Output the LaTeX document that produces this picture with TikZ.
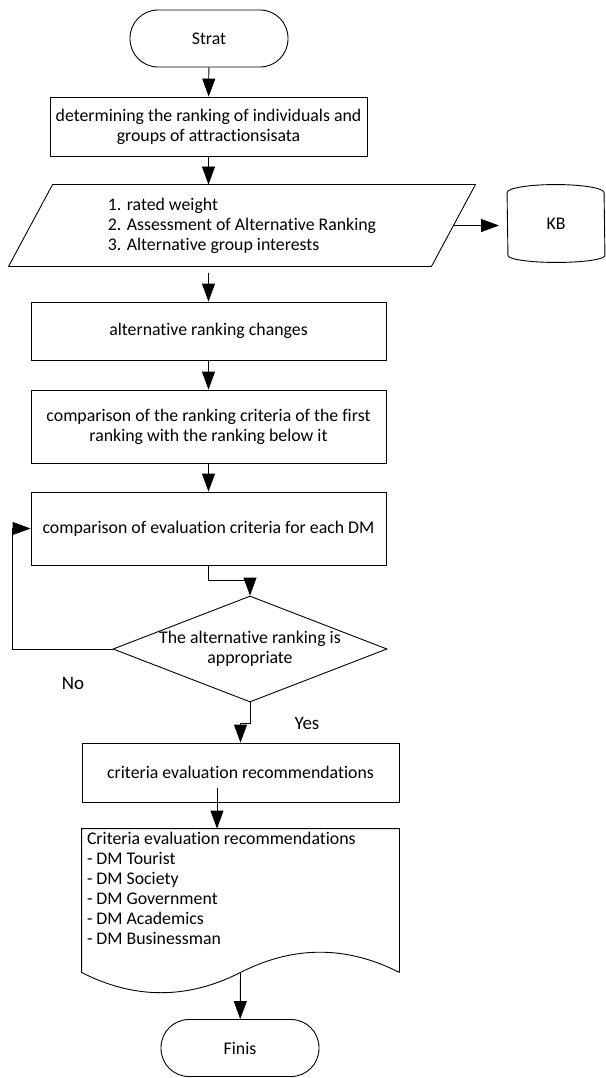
\documentclass[tikz,border=0pt]{standalone}
\usepackage{fontspec}
\setmainfont[Ligatures=CommonOff]{Carlito}
\usetikzlibrary{calc}
\usetikzlibrary{arrows.meta,shapes.geometric}
\tikzset{
	terminal/.style={draw, rounded corners=28pt, minimum width=158pt, minimum height=57pt},
	process/.style={draw, minimum height=58pt, align=center},
	inputbox/.style={minimum width=422pt, minimum height=81pt, align=left},
	storebox/.style={minimum width=97pt, minimum height=62pt},
	docbox/.style={minimum width=317pt, minimum height=143pt},
	decision/.style={draw, diamond, aspect=2.6, inner sep=0pt, minimum width=274pt, minimum height=106pt, align=center},
	answer/.style={font=\fontsize{19}{22}\selectfont},
	flow/.style={-{Triangle[length=18pt,width=13pt]}}
}

\begin{document}
\begin{tikzpicture}[x=1pt, y=-1pt, line width=0.9pt, every node/.style={font=\fontsize{17.8}{20}\selectfont}]
	\useasboundingbox (0,0) rectangle (605,1078);
	\node[terminal] (start) at (209,38.5) {Strat};
	\node[process, minimum width=317pt, minimum height=59pt] (rank) at (208.5,126.5) {determining the ranking of individuals and\\groups of attractionsisata};
	\node[inputbox] (input) at (242,225.5) {1. rated weight\\2. Assessment of Alternative Ranking\\3. Alternative group interests};
	\draw ([xshift=22pt]input.north west) -- ([xshift=22pt]input.north east) -- ([xshift=-22pt]input.south east) -- ([xshift=-22pt]input.south west) -- cycle;
	\node[storebox] (kb) at (556,224) {KB};
	\draw (kb.north west) arc[start angle=180, end angle=0, x radius=48.5pt, y radius=8pt] -- (kb.south east) arc[start angle=0, end angle=-180, x radius=48.5pt, y radius=7pt] -- cycle;
	\node[process, minimum width=355pt] (change) at (208.5,331) {alternative ranking changes};
	\node[process, minimum width=355pt, minimum height=73pt] (compare) at (208.5,426.5) {comparison of the ranking criteria of the first\\ranking with the ranking below it};
	\node[process, minimum width=355pt, minimum height=73pt] (evaluate) at (208.5,528.5) {comparison of evaluation criteria for each DM};
	\node[decision] (check) at (250,649) {The alternative ranking is\\appropriate};
	\node[process, minimum width=317pt, minimum height=59pt] (recommend) at (240.5,772.5) {criteria evaluation recommendations};
	\node[docbox] (doc) at (240.5,900.5) {};
	\draw (doc.south east) -- (doc.north east) -- (doc.north west) -- (doc.south west) .. controls +(53,27) and +(-53,27) .. (doc.south) .. controls +(53,-27) and +(-53,-27) .. (doc.south east);
	\node[anchor=north west, inner sep=0pt, align=left] (doclist) at ([xshift=5pt,yshift=-3pt]doc.north west) {Criteria evaluation recommendations\\- DM Tourist\\- DM Society\\- DM Government\\- DM Academics\\- DM Businessman};
	\node[terminal] (finish) at (240,1048) {Finis};
	\node[answer] (no) at (73,683) {No};
	\node[answer] (yes) at (307,723) {Yes};
	\coordinate (back) at (12,649);

	\draw[flow] (start) -- (rank);
	\draw[flow] (rank.south) -- (rank.south |- input.north);
	\draw[flow, shorten <=7pt] (rank.south |- input.south) -- (change.north);
	\draw[flow, shorten >=8pt] (input.east) -- (input.east -| kb.west);
	\draw[flow] (change) -- (compare);
	\draw[flow] (compare) -- (evaluate);
	\draw[flow] (evaluate.south) -- ++(0,15) -| (check.north);
	\draw[flow] (check.west) -- (back) |- (evaluate.west);
	\draw[flow] (check.south) -- ++(0,21) -| (recommend.north);
	\draw[flow] ([xshift=-23.5pt,yshift=-15.5pt]recommend.center) -- ([xshift=-23.5pt]doc.north);
	\draw[flow] (doc.south) -- (finish);
\end{tikzpicture}
\end{document}
